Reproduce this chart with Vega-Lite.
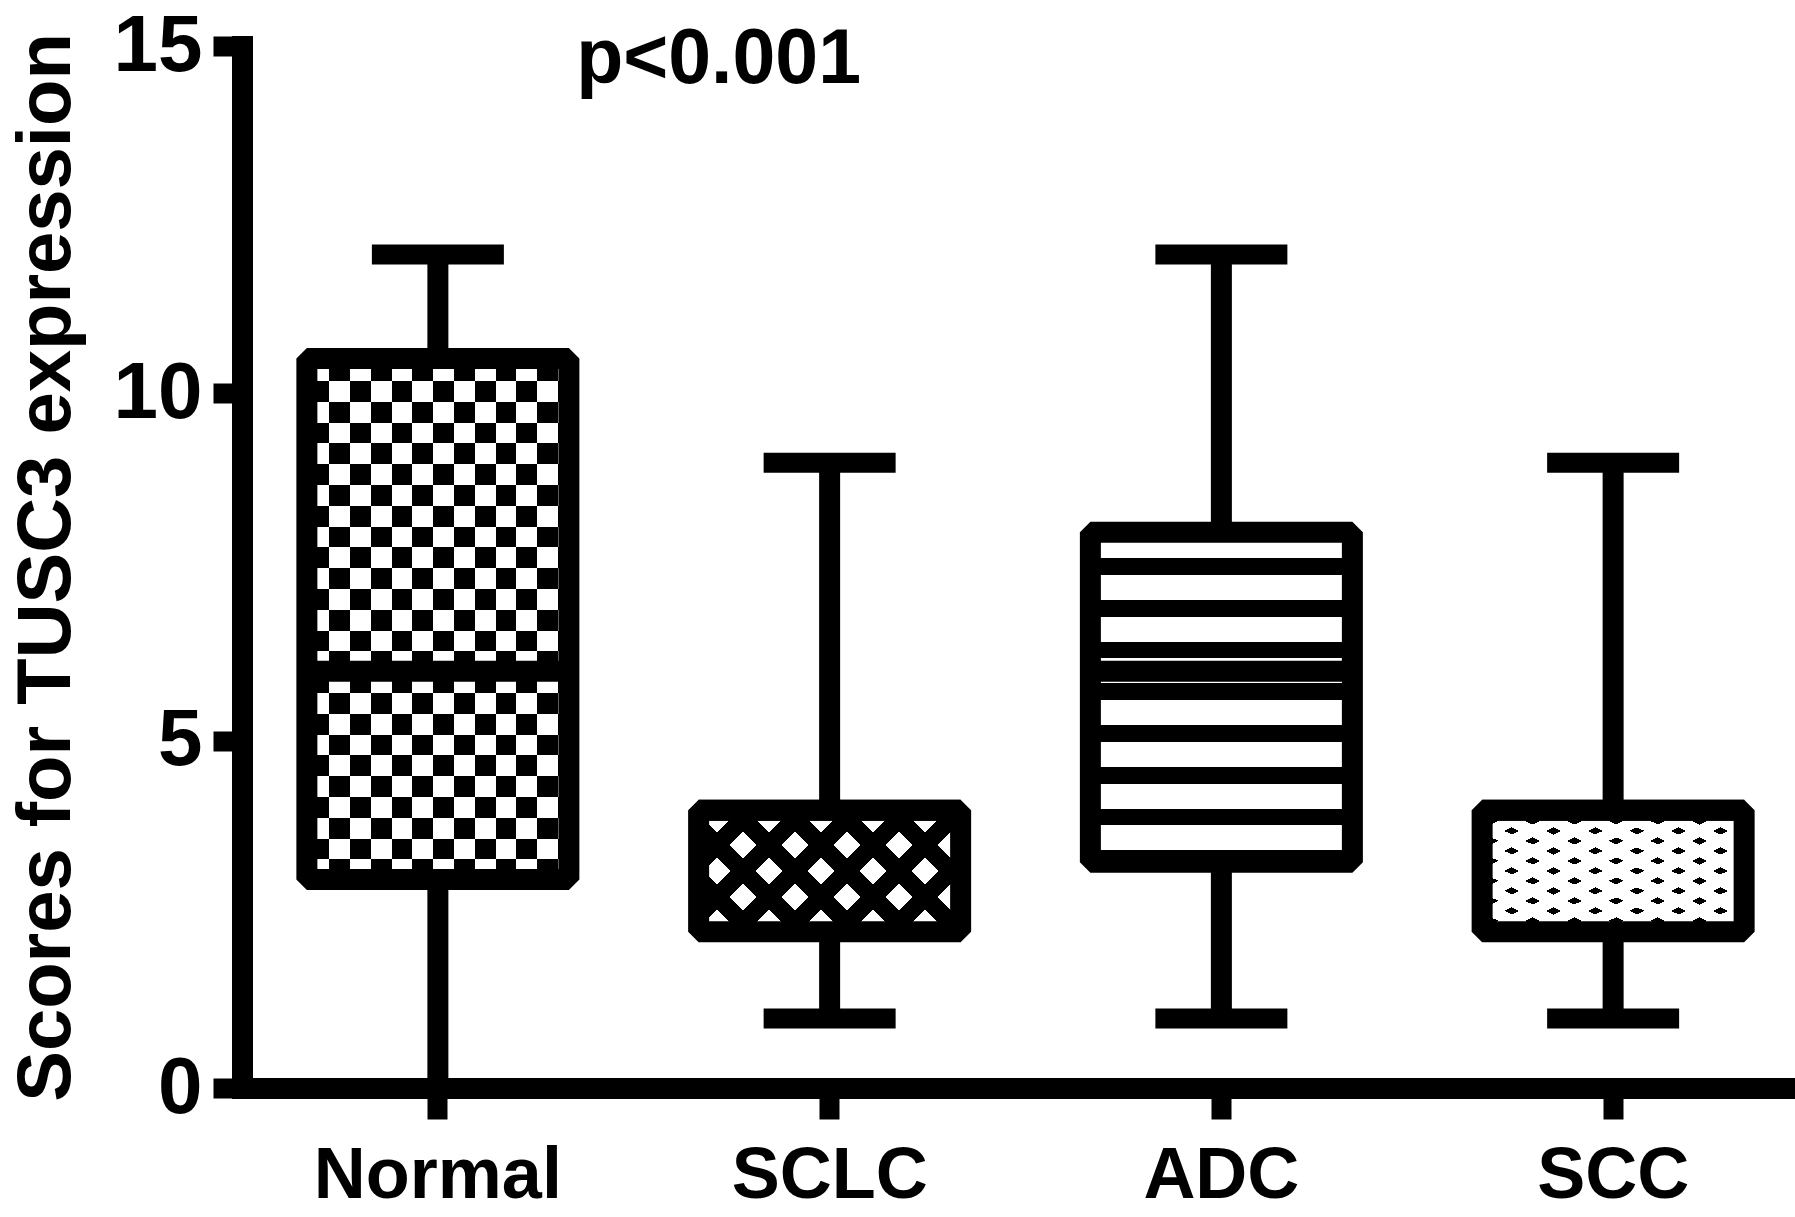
{
  "$schema": "https://vega.github.io/schema/vega-lite/v6.json",
  "width": 1567,
  "height": 1042,
  "autosize": "none",
  "padding": {"left": 242, "top": 46, "right": -14, "bottom": 129},
  "background": "white",
  "config": {
    "view": {"stroke": null},
    "axis": {"grid": false, "domainColor": "black", "tickColor": "black", "labelColor": "black", "titleColor": "black", "labelFont": "Liberation Sans", "titleFont": "Liberation Sans", "labelFontWeight": "bold", "titleFontWeight": "bold", "domainWidth": 21, "domainCap": "square", "tickWidth": 20, "tickCap": "butt", "labelLimit": 0},
    "axisY": {"tickSize": 29, "labelPadding": 11, "labelFontSize": 80, "titleFontSize": 76, "titlePadding": 28, "tickCount": 3, "labelFlush": false, "labelOverlap": false},
    "axisX": {"tickSize": 31, "labelPadding": 21, "labelFontSize": 72, "labelAngle": 0, "labelOverlap": false}
  },
  "datasets": {
    "stats": [
      {"group": "Normal", "min": 0, "q1": 3, "median": 6, "q3": 10.5, "max": 12},
      {"group": "SCLC", "min": 1, "q1": 2.25, "median": 4, "q3": 4, "max": 9},
      {"group": "ADC", "min": 1, "q1": 3.25, "median": 6, "q3": 8, "max": 12},
      {"group": "SCC", "min": 1, "q1": 2.25, "median": 4, "q3": 4, "max": 9}
    ]
  },
  "data": {"name": "stats"},
  "encoding": {
    "x": {"field": "group", "type": "nominal", "title": null, "scale": {"domain": ["Normal", "SCLC", "ADC", "SCC"], "paddingInner": 0, "paddingOuter": 0}}
  },
  "layer": [
    {
      "mark": {"type": "rule", "strokeWidth": 21, "color": "black", "strokeCap": "butt"},
      "encoding": {
        "y": {"field": "min", "type": "quantitative", "title": "Scores for TUSC3 expression", "scale": {"domain": [0, 15], "nice": false}},
        "y2": {"field": "max"}
      }
    },
    {
      "mark": {"type": "tick", "size": 132, "thickness": 20, "color": "black", "opacity": 1},
      "encoding": {"y": {"field": "min", "type": "quantitative", "title": "Scores for TUSC3 expression", "scale": {"domain": [0, 15], "nice": false}}}
    },
    {
      "mark": {"type": "tick", "size": 132, "thickness": 20, "color": "black", "opacity": 1},
      "encoding": {"y": {"field": "max", "type": "quantitative", "title": "Scores for TUSC3 expression", "scale": {"domain": [0, 15], "nice": false}}}
    },
    {
      "transform": [{"filter": "datum.group === 'Normal'"}],
      "mark": {"type": "bar", "width": 262, "strokeWidth": 0, "fillOpacity": 1,
        "fill": {"gradient": "linear", "x1": 0, "y1": 0, "x2": 0, "y2": 1, "stops": [
          {"offset": 0, "color": "white"}, {"offset": 0.0029, "color": "white"}, {"offset": 0.0029, "color": "black"}, {"offset": 0.0428, "color": "black"}, {"offset": 0.0428, "color": "white"},
          {"offset": 0.0828, "color": "white"}, {"offset": 0.0828, "color": "black"}, {"offset": 0.1227, "color": "black"}, {"offset": 0.1227, "color": "white"},
          {"offset": 0.1626, "color": "white"}, {"offset": 0.1626, "color": "black"}, {"offset": 0.2025, "color": "black"}, {"offset": 0.2025, "color": "white"},
          {"offset": 0.2425, "color": "white"}, {"offset": 0.2425, "color": "black"}, {"offset": 0.2824, "color": "black"}, {"offset": 0.2824, "color": "white"},
          {"offset": 0.3223, "color": "white"}, {"offset": 0.3223, "color": "black"}, {"offset": 0.3622, "color": "black"}, {"offset": 0.3622, "color": "white"},
          {"offset": 0.4022, "color": "white"}, {"offset": 0.4022, "color": "black"}, {"offset": 0.4421, "color": "black"}, {"offset": 0.4421, "color": "white"},
          {"offset": 0.4820, "color": "white"}, {"offset": 0.4820, "color": "black"}, {"offset": 0.5219, "color": "black"}, {"offset": 0.5219, "color": "white"},
          {"offset": 0.5619, "color": "white"}, {"offset": 0.5619, "color": "black"}, {"offset": 0.6018, "color": "black"}, {"offset": 0.6018, "color": "white"},
          {"offset": 0.6417, "color": "white"}, {"offset": 0.6417, "color": "black"}, {"offset": 0.6816, "color": "black"}, {"offset": 0.6816, "color": "white"},
          {"offset": 0.7216, "color": "white"}, {"offset": 0.7216, "color": "black"}, {"offset": 0.7615, "color": "black"}, {"offset": 0.7615, "color": "white"},
          {"offset": 0.8014, "color": "white"}, {"offset": 0.8014, "color": "black"}, {"offset": 0.8413, "color": "black"}, {"offset": 0.8413, "color": "white"},
          {"offset": 0.8813, "color": "white"}, {"offset": 0.8813, "color": "black"}, {"offset": 0.9212, "color": "black"}, {"offset": 0.9212, "color": "white"},
          {"offset": 0.9611, "color": "white"}, {"offset": 0.9611, "color": "black"}, {"offset": 1, "color": "black"}
        ]}},
      "encoding": {
        "y": {"field": "q3", "type": "quantitative", "title": "Scores for TUSC3 expression", "scale": {"domain": [0, 15], "nice": false}},
        "y2": {"field": "q1"}
      }
    },
    {
      "transform": [{"filter": "datum.group === 'Normal'"}],
      "mark": {"type": "bar", "width": 262, "strokeWidth": 0, "fillOpacity": 1, "blend": "difference",
        "fill": {"gradient": "linear", "x1": 0, "y1": 0, "x2": 1, "y2": 0, "stops": [
          {"offset": 0, "color": "black"}, {"offset": 0.0057, "color": "black"}, {"offset": 0.0057, "color": "white"},
          {"offset": 0.0851, "color": "white"}, {"offset": 0.0851, "color": "black"}, {"offset": 0.1645, "color": "black"}, {"offset": 0.1645, "color": "white"},
          {"offset": 0.2439, "color": "white"}, {"offset": 0.2439, "color": "black"}, {"offset": 0.3233, "color": "black"}, {"offset": 0.3233, "color": "white"},
          {"offset": 0.4027, "color": "white"}, {"offset": 0.4027, "color": "black"}, {"offset": 0.4821, "color": "black"}, {"offset": 0.4821, "color": "white"},
          {"offset": 0.5615, "color": "white"}, {"offset": 0.5615, "color": "black"}, {"offset": 0.6408, "color": "black"}, {"offset": 0.6408, "color": "white"},
          {"offset": 0.7202, "color": "white"}, {"offset": 0.7202, "color": "black"}, {"offset": 0.7996, "color": "black"}, {"offset": 0.7996, "color": "white"},
          {"offset": 0.8790, "color": "white"}, {"offset": 0.8790, "color": "black"}, {"offset": 0.9584, "color": "black"}, {"offset": 0.9584, "color": "white"},
          {"offset": 1, "color": "white"}
        ]}},
      "encoding": {
        "y": {"field": "q3", "type": "quantitative", "title": "Scores for TUSC3 expression", "scale": {"domain": [0, 15], "nice": false}},
        "y2": {"field": "q1"}
      }
    },
    {
      "transform": [{"filter": "datum.group === 'SCLC'"}],
      "mark": {"type": "bar", "width": 262, "strokeWidth": 0, "fillOpacity": 1,
        "fill": {"gradient": "linear", "x1": 0, "y1": 1, "x2": 1.2045, "y2": 0.441, "stops": [
          {"offset": 0, "color": "black"}, {"offset": 0.0355, "color": "black"}, {"offset": 0.0355, "color": "white"},
          {"offset": 0.1056, "color": "white"}, {"offset": 0.1056, "color": "black"}, {"offset": 0.1712, "color": "black"}, {"offset": 0.1712, "color": "white"},
          {"offset": 0.2413, "color": "white"}, {"offset": 0.2413, "color": "black"}, {"offset": 0.3069, "color": "black"}, {"offset": 0.3069, "color": "white"},
          {"offset": 0.3770, "color": "white"}, {"offset": 0.3770, "color": "black"}, {"offset": 0.4426, "color": "black"}, {"offset": 0.4426, "color": "white"},
          {"offset": 0.5127, "color": "white"}, {"offset": 0.5127, "color": "black"}, {"offset": 0.5783, "color": "black"}, {"offset": 0.5783, "color": "white"},
          {"offset": 0.6484, "color": "white"}, {"offset": 0.6484, "color": "black"}, {"offset": 0.7140, "color": "black"}, {"offset": 0.7140, "color": "white"},
          {"offset": 0.7841, "color": "white"}, {"offset": 0.7841, "color": "black"}, {"offset": 0.8497, "color": "black"}, {"offset": 0.8497, "color": "white"},
          {"offset": 0.9198, "color": "white"}, {"offset": 0.9198, "color": "black"}, {"offset": 0.9854, "color": "black"}, {"offset": 0.9854, "color": "white"},
          {"offset": 1, "color": "white"}
        ]}},
      "encoding": {
        "y": {"field": "q3", "type": "quantitative", "title": "Scores for TUSC3 expression", "scale": {"domain": [0, 15], "nice": false}},
        "y2": {"field": "q1"}
      }
    },
    {
      "transform": [{"filter": "datum.group === 'SCLC'"}],
      "mark": {"type": "bar", "width": 262, "strokeWidth": 0, "fillOpacity": 1, "blend": "multiply",
        "fill": {"gradient": "linear", "x1": 0, "y1": 0, "x2": 1.2045, "y2": 0.559, "stops": [
          {"offset": 0, "color": "black"}, {"offset": 0.0355, "color": "black"}, {"offset": 0.0355, "color": "white"},
          {"offset": 0.1056, "color": "white"}, {"offset": 0.1056, "color": "black"}, {"offset": 0.1712, "color": "black"}, {"offset": 0.1712, "color": "white"},
          {"offset": 0.2413, "color": "white"}, {"offset": 0.2413, "color": "black"}, {"offset": 0.3069, "color": "black"}, {"offset": 0.3069, "color": "white"},
          {"offset": 0.3770, "color": "white"}, {"offset": 0.3770, "color": "black"}, {"offset": 0.4426, "color": "black"}, {"offset": 0.4426, "color": "white"},
          {"offset": 0.5127, "color": "white"}, {"offset": 0.5127, "color": "black"}, {"offset": 0.5783, "color": "black"}, {"offset": 0.5783, "color": "white"},
          {"offset": 0.6484, "color": "white"}, {"offset": 0.6484, "color": "black"}, {"offset": 0.7140, "color": "black"}, {"offset": 0.7140, "color": "white"},
          {"offset": 0.7841, "color": "white"}, {"offset": 0.7841, "color": "black"}, {"offset": 0.8497, "color": "black"}, {"offset": 0.8497, "color": "white"},
          {"offset": 0.9198, "color": "white"}, {"offset": 0.9198, "color": "black"}, {"offset": 0.9854, "color": "black"}, {"offset": 0.9854, "color": "white"},
          {"offset": 1, "color": "white"}
        ]}},
      "encoding": {
        "y": {"field": "q3", "type": "quantitative", "title": "Scores for TUSC3 expression", "scale": {"domain": [0, 15], "nice": false}},
        "y2": {"field": "q1"}
      }
    },
    {
      "transform": [{"filter": "datum.group === 'ADC'"}],
      "mark": {"type": "bar", "width": 262, "strokeWidth": 0, "fillOpacity": 1,
        "fill": {"gradient": "linear", "x1": 0, "y1": 0, "x2": 0, "y2": 1, "stops": [
          {"offset": 0, "color": "white"},
          {"offset": 0.0791, "color": "white"}, {"offset": 0.0791, "color": "black"}, {"offset": 0.1297, "color": "black"}, {"offset": 0.1297, "color": "white"},
          {"offset": 0.2055, "color": "white"}, {"offset": 0.2055, "color": "black"}, {"offset": 0.2561, "color": "black"}, {"offset": 0.2561, "color": "white"},
          {"offset": 0.3318, "color": "white"}, {"offset": 0.3318, "color": "black"}, {"offset": 0.3824, "color": "black"}, {"offset": 0.3824, "color": "white"},
          {"offset": 0.4582, "color": "white"}, {"offset": 0.4582, "color": "black"}, {"offset": 0.5088, "color": "black"}, {"offset": 0.5088, "color": "white"},
          {"offset": 0.5845, "color": "white"}, {"offset": 0.5845, "color": "black"}, {"offset": 0.6352, "color": "black"}, {"offset": 0.6352, "color": "white"},
          {"offset": 0.7109, "color": "white"}, {"offset": 0.7109, "color": "black"}, {"offset": 0.7615, "color": "black"}, {"offset": 0.7615, "color": "white"},
          {"offset": 0.8373, "color": "white"}, {"offset": 0.8373, "color": "black"}, {"offset": 0.8879, "color": "black"}, {"offset": 0.8879, "color": "white"},
          {"offset": 0.9636, "color": "white"}, {"offset": 0.9636, "color": "black"}, {"offset": 1, "color": "black"}
        ]}},
      "encoding": {
        "y": {"field": "q3", "type": "quantitative", "title": "Scores for TUSC3 expression", "scale": {"domain": [0, 15], "nice": false}},
        "y2": {"field": "q1"}
      }
    },
    {
      "transform": [{"filter": "datum.group === 'SCC'"}],
      "mark": {"type": "bar", "width": 262, "strokeWidth": 0, "fillOpacity": 1,
        "fill": {"gradient": "linear", "x1": 0, "y1": 1, "x2": 1.016, "y2": 0.0166, "stops": [
          {"offset": 0, "color": "white"}, {"offset": 0.0462, "color": "white"}, {"offset": 0.0462, "color": "black"}, {"offset": 0.0754, "color": "black"}, {"offset": 0.0754, "color": "white"},
          {"offset": 0.1271, "color": "white"}, {"offset": 0.1271, "color": "black"}, {"offset": 0.1563, "color": "black"}, {"offset": 0.1563, "color": "white"},
          {"offset": 0.2080, "color": "white"}, {"offset": 0.2080, "color": "black"}, {"offset": 0.2372, "color": "black"}, {"offset": 0.2372, "color": "white"},
          {"offset": 0.2889, "color": "white"}, {"offset": 0.2889, "color": "black"}, {"offset": 0.3181, "color": "black"}, {"offset": 0.3181, "color": "white"},
          {"offset": 0.3698, "color": "white"}, {"offset": 0.3698, "color": "black"}, {"offset": 0.3990, "color": "black"}, {"offset": 0.3990, "color": "white"},
          {"offset": 0.4507, "color": "white"}, {"offset": 0.4507, "color": "black"}, {"offset": 0.4799, "color": "black"}, {"offset": 0.4799, "color": "white"},
          {"offset": 0.5316, "color": "white"}, {"offset": 0.5316, "color": "black"}, {"offset": 0.5608, "color": "black"}, {"offset": 0.5608, "color": "white"},
          {"offset": 0.6125, "color": "white"}, {"offset": 0.6125, "color": "black"}, {"offset": 0.6417, "color": "black"}, {"offset": 0.6417, "color": "white"},
          {"offset": 0.6934, "color": "white"}, {"offset": 0.6934, "color": "black"}, {"offset": 0.7226, "color": "black"}, {"offset": 0.7226, "color": "white"},
          {"offset": 0.7743, "color": "white"}, {"offset": 0.7743, "color": "black"}, {"offset": 0.8035, "color": "black"}, {"offset": 0.8035, "color": "white"},
          {"offset": 0.8552, "color": "white"}, {"offset": 0.8552, "color": "black"}, {"offset": 0.8844, "color": "black"}, {"offset": 0.8844, "color": "white"},
          {"offset": 0.9361, "color": "white"}, {"offset": 0.9361, "color": "black"}, {"offset": 0.9653, "color": "black"}, {"offset": 0.9653, "color": "white"},
          {"offset": 1, "color": "white"}
        ]}},
      "encoding": {
        "y": {"field": "q3", "type": "quantitative", "title": "Scores for TUSC3 expression", "scale": {"domain": [0, 15], "nice": false}},
        "y2": {"field": "q1"}
      }
    },
    {
      "transform": [{"filter": "datum.group === 'SCC'"}],
      "mark": {"type": "bar", "width": 262, "strokeWidth": 0, "fillOpacity": 1, "blend": "lighten",
        "fill": {"gradient": "linear", "x1": 0, "y1": 0, "x2": 1.016, "y2": 0.9834, "stops": [
          {"offset": 0, "color": "white"}, {"offset": 0.0462, "color": "white"}, {"offset": 0.0462, "color": "black"}, {"offset": 0.0754, "color": "black"}, {"offset": 0.0754, "color": "white"},
          {"offset": 0.1271, "color": "white"}, {"offset": 0.1271, "color": "black"}, {"offset": 0.1563, "color": "black"}, {"offset": 0.1563, "color": "white"},
          {"offset": 0.2080, "color": "white"}, {"offset": 0.2080, "color": "black"}, {"offset": 0.2372, "color": "black"}, {"offset": 0.2372, "color": "white"},
          {"offset": 0.2889, "color": "white"}, {"offset": 0.2889, "color": "black"}, {"offset": 0.3181, "color": "black"}, {"offset": 0.3181, "color": "white"},
          {"offset": 0.3698, "color": "white"}, {"offset": 0.3698, "color": "black"}, {"offset": 0.3990, "color": "black"}, {"offset": 0.3990, "color": "white"},
          {"offset": 0.4507, "color": "white"}, {"offset": 0.4507, "color": "black"}, {"offset": 0.4799, "color": "black"}, {"offset": 0.4799, "color": "white"},
          {"offset": 0.5316, "color": "white"}, {"offset": 0.5316, "color": "black"}, {"offset": 0.5608, "color": "black"}, {"offset": 0.5608, "color": "white"},
          {"offset": 0.6125, "color": "white"}, {"offset": 0.6125, "color": "black"}, {"offset": 0.6417, "color": "black"}, {"offset": 0.6417, "color": "white"},
          {"offset": 0.6934, "color": "white"}, {"offset": 0.6934, "color": "black"}, {"offset": 0.7226, "color": "black"}, {"offset": 0.7226, "color": "white"},
          {"offset": 0.7743, "color": "white"}, {"offset": 0.7743, "color": "black"}, {"offset": 0.8035, "color": "black"}, {"offset": 0.8035, "color": "white"},
          {"offset": 0.8552, "color": "white"}, {"offset": 0.8552, "color": "black"}, {"offset": 0.8844, "color": "black"}, {"offset": 0.8844, "color": "white"},
          {"offset": 0.9361, "color": "white"}, {"offset": 0.9361, "color": "black"}, {"offset": 0.9653, "color": "black"}, {"offset": 0.9653, "color": "white"},
          {"offset": 1, "color": "white"}
        ]}},
      "encoding": {
        "y": {"field": "q3", "type": "quantitative", "title": "Scores for TUSC3 expression", "scale": {"domain": [0, 15], "nice": false}},
        "y2": {"field": "q1"}
      }
    },
    {
      "mark": {"type": "bar", "width": 262, "fill": "white", "fillOpacity": 0, "stroke": "black", "strokeWidth": 21, "strokeJoin": "bevel"},
      "encoding": {
        "y": {"field": "q3", "type": "quantitative", "title": "Scores for TUSC3 expression", "scale": {"domain": [0, 15], "nice": false}},
        "y2": {"field": "q1"}
      }
    },
    {
      "mark": {"type": "tick", "size": 262, "thickness": 21, "color": "black", "opacity": 1},
      "encoding": {"y": {"field": "median", "type": "quantitative", "title": "Scores for TUSC3 expression", "scale": {"domain": [0, 15], "nice": false}}}
    },
    {
      "data": {"values": [{"group": "SCLC", "label": "p<0.001", "ypos": 14.47}]},
      "mark": {"type": "text", "font": "Liberation Sans", "fontSize": 77, "fontWeight": "bold", "color": "black", "align": "center", "baseline": "alphabetic", "dx": -111},
      "encoding": {
        "y": {"field": "ypos", "type": "quantitative", "title": "Scores for TUSC3 expression", "scale": {"domain": [0, 15], "nice": false}},
        "text": {"field": "label"}
      }
    }
  ]
}
